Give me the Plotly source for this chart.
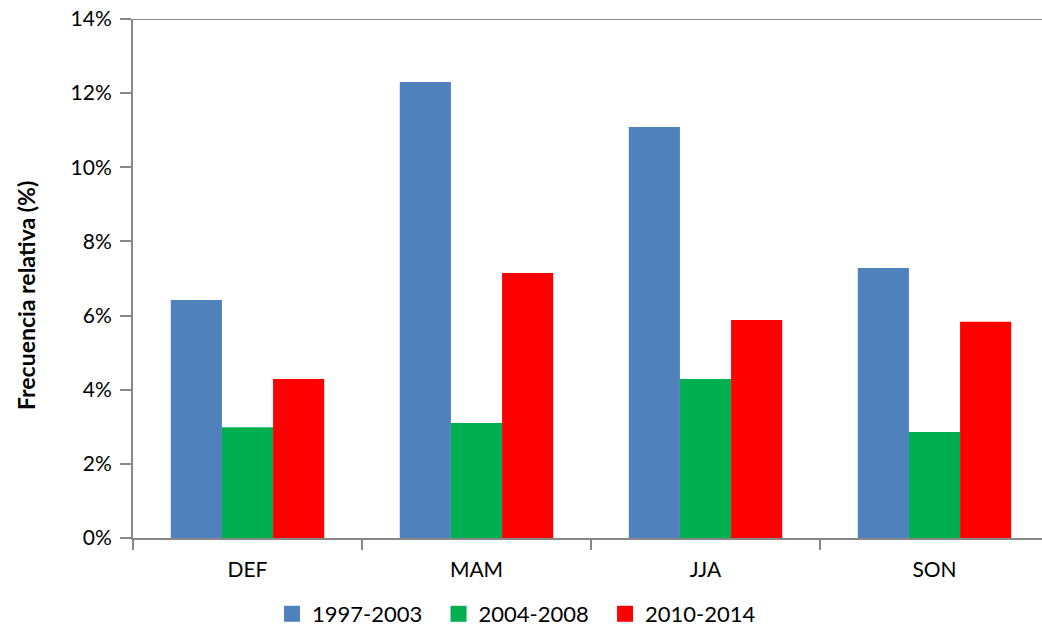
import plotly.graph_objects as go

# Seasons and relative frequency (%) for each period
seasons = ["DEF", "MAM", "JJA", "SON"]
periods = ["1997-2003", "2004-2008", "2010-2014"]
freq_1997_2003 = [6.42, 12.30, 11.09, 7.28]
freq_2004_2008 = [2.99, 3.10, 4.29, 2.86]
freq_2010_2014 = [4.29, 7.15, 5.88, 5.83]
colors = ["#4F81BD", "#00B050", "#FF0000"]

W, H = 1042, 632
left, top, bottom = 133, 19, 94
plot_w = W - left
plot_h = H - top - bottom
cat_w = 229.0  # pixel width of one category slot

fig = go.Figure()
for name, vals, col in zip(periods, [freq_1997_2003, freq_2004_2008, freq_2010_2014], colors):
    fig.add_trace(go.Bar(x=seasons, y=vals, name=name, showlegend=False,
                         marker=dict(color=col, line=dict(width=0))))

# Legend entries drawn as square swatches
for name, col in zip(periods, colors):
    fig.add_trace(go.Scatter(x=[None], y=[None], mode="markers", name=name + "  ",
                             marker=dict(symbol="square", size=16, color=col)))

axis_col = "#888888"
font = "Lato, 'Open Sans', sans-serif"

fig.update_layout(
    width=W, height=H,
    margin=dict(l=left, r=0, t=top, b=bottom, autoexpand=False),
    paper_bgcolor="white", plot_bgcolor="white",
    barmode="group", bargap=0.33, bargroupgap=0,
    font=dict(family=font, size=21, color="#000000"),
    showlegend=True,
    legend=dict(orientation="h", xref="container", yref="container",
                x=522 / W, xanchor="center", y=1 - 593 / H, yanchor="top",
                font=dict(size=22), itemwidth=30, traceorder="normal"),
    xaxis=dict(
        range=[-0.5, -0.5 + plot_w / cat_w],
        showline=True, linecolor=axis_col, linewidth=2,
        ticks="outside", tickson="boundaries", ticklen=10, tickcolor=axis_col, tickwidth=2,
        showgrid=False, tickfont=dict(size=21), ticklabelstandoff=12, fixedrange=True,
        automargin=False,
    ),
    yaxis=dict(
        range=[0, 14], dtick=2, ticksuffix="%",
        showline=True, linecolor=axis_col, linewidth=2,
        ticks="outside", ticklen=11, tickcolor=axis_col, tickwidth=2,
        showgrid=False, zeroline=False, tickfont=dict(size=21), ticklabelstandoff=4,
        automargin=False,
    ),
    shapes=[dict(type="line", xref="paper", yref="y", x0=0, x1=1, y0=14, y1=14,
                 line=dict(color=axis_col, width=2))],
    annotations=[dict(text="<b>Frecuencia relativa (%)</b>", textangle=-90,
                      xref="paper", yref="paper",
                      x=(26 - left) / plot_w, y=(H - bottom - 296) / plot_h,
                      xanchor="center", yanchor="middle", showarrow=False,
                      font=dict(size=23, family=font))],
)

fig.write_html("out.html")
